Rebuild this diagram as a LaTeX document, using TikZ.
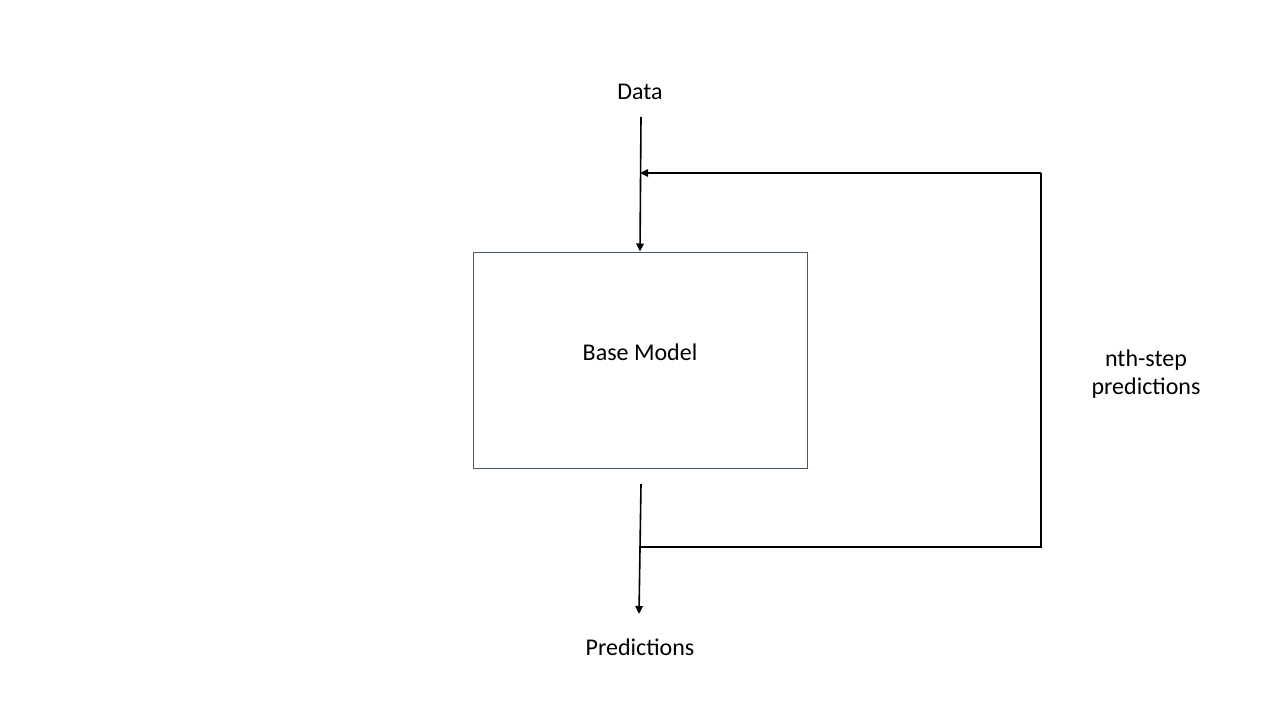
\documentclass[tikz,border=0pt]{standalone}
\usepackage{fontspec}
\setmainfont{Carlito}
\usetikzlibrary{arrows.meta}
\begin{document}
\begin{tikzpicture}[x=1pt,y=-1pt,
  lbl/.style={font=\fontsize{24}{28}\selectfont, text=black, inner sep=0pt, align=center},
  modelbox/.style={draw={rgb,255:red,65;green,88;blue,122}, line width=1pt, minimum width=334pt, minimum height=216pt, inner sep=0pt},
  conn/.style={draw=black, line width=1.6pt},
  arr/.style={conn, -{Triangle[length=8pt,width=7.5pt]}}]
\useasboundingbox (0,0) rectangle (1280,720);
\node[lbl] (data) at (640,92) {Data};
\node[modelbox] (box) at (640,360) {};
\node[lbl] at (640,352) {Base Model};
\node[lbl] (pred) at (640,647) {Predictions};
\node[lbl] (nth) at (1146,374) {nth-step\\predictions};
\coordinate (din) at (641,117);
\coordinate (fbin) at (640,173);
\coordinate (tr) at (1041,173);
\coordinate (br) at (1041,547);
\coordinate (fbout) at (640,547);
\coordinate (oin) at (641,484);
\coordinate (oout) at (639,614);
\draw[arr] (din) -- (box.north);
\draw[arr] (tr) -- (fbin);
\draw[conn] (fbout) -- (br) -- (tr);
\draw[arr] (oin) -- (oout);
\end{tikzpicture}
\end{document}
